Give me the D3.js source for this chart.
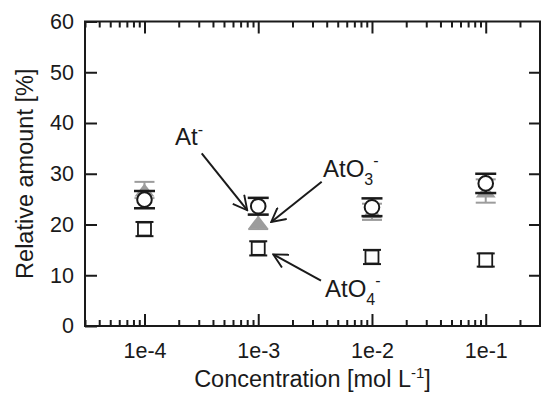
<!DOCTYPE html>
<html>
<head>
<meta charset="utf-8">
<script src="https://cdn.jsdelivr.net/npm/d3@7"></script>
<style>
  body { margin: 0; background: #fff; }
  svg { display: block; font-family: "Liberation Sans", Arial, sans-serif; }
  .axis path { display: none; }
  .axis line { stroke: #1a1a1a; stroke-width: 2; }
  .axis text { fill: #1a1a1a; font-size: 21.5px; }
</style>
</head>
<body>
<svg id="chart"></svg>
<script>
// Relative amount of astatine species vs. concentration
const concentrations = [1e-4, 1e-3, 1e-2, 1e-1];
const tickLabels = ["1e-4", "1e-3", "1e-2", "1e-1"];
const yTicks = [0, 10, 20, 30, 40, 50, 60];

// At- (open circles)
const atValues = [24.9, 23.6, 23.4, 28.1];
const atErrors = [1.7, 1.65, 1.75, 1.9];
// AtO3- (grey triangles)
const atO3Values = [26.8, 20.5, 22.5, 26.6];
const atO3Errors = [1.6, 1.4, 1.6, 2.3];
// AtO4- (open squares)
const atO4Values = [19.1, 15.3, 13.6, 13.0];
const atO4Errors = [1.4, 1.4, 1.4, 1.3];

const width = 542, height = 395;
const margin = { left: 85, right: 2, top: 21.5, bottom: 69 };

const svg = d3.select("#chart").attr("width", width).attr("height", height);

const x = d3.scaleLog()
    .domain([3e-5, 0.3])
    .range([margin.left, width - margin.right]);
const y = d3.scaleLinear()
    .domain([0, 60])
    .range([height - margin.bottom, margin.top]);

const x0 = x.range()[0], x1 = x.range()[1];
const y0 = y.range()[0], y1 = y.range()[1];

// minor ticks 2..9 per decade inside the domain
const minorTicks = [];
for (let e = -5; e <= 0; e++) {
    for (let m = 2; m <= 9; m++) {
        const v = m * Math.pow(10, e);
        if (v > 3e-5 && v < 0.3 && concentrations.indexOf(v) < 0) minorTicks.push(v);
    }
}

// bottom axis
svg.append("g").attr("class", "axis")
    .attr("transform", `translate(0,${y0})`)
    .call(d3.axisBottom(x).tickValues(concentrations).tickSize(-12).tickPadding(17)
        .tickFormat((d, i) => tickLabels[i]));
svg.append("g").attr("class", "axis")
    .attr("transform", `translate(0,${y0})`)
    .call(d3.axisBottom(x).tickValues(minorTicks).tickSize(-6).tickFormat(""));
// top axis
svg.append("g").attr("class", "axis")
    .attr("transform", `translate(0,${y1})`)
    .call(d3.axisTop(x).tickValues(concentrations).tickSize(-12).tickFormat(""));
svg.append("g").attr("class", "axis")
    .attr("transform", `translate(0,${y1})`)
    .call(d3.axisTop(x).tickValues(minorTicks).tickSize(-6).tickFormat(""));
// left axis
svg.append("g").attr("class", "axis")
    .attr("transform", `translate(${x0},0)`)
    .call(d3.axisLeft(y).tickValues(yTicks).tickSize(-12).tickPadding(11));
// right axis
svg.append("g").attr("class", "axis")
    .attr("transform", `translate(${x1},0)`)
    .call(d3.axisRight(y).tickValues(yTicks.slice(1, -1)).tickSize(-11).tickFormat(""));

// frame
svg.append("rect")
    .attr("x", x0).attr("y", y1)
    .attr("width", x1 - x0).attr("height", y0 - y1)
    .attr("fill", "none").attr("stroke", "#1a1a1a").attr("stroke-width", 2);

// axis titles
svg.append("text")
    .attr("transform", `translate(33,${(y0 + y1) / 2}) rotate(-90)`)
    .attr("text-anchor", "middle")
    .attr("font-size", 23.5).attr("fill", "#1a1a1a")
    .text("Relative amount [%]");

const xTitle = svg.append("text")
    .attr("x", (x0 + x1) / 2).attr("y", 387)
    .attr("text-anchor", "middle")
    .attr("font-size", 23.5).attr("fill", "#1a1a1a");
xTitle.append("tspan").text("Concentration [mol L");
xTitle.append("tspan").attr("dy", -9).attr("font-size", 15).text("-1");
xTitle.append("tspan").attr("dy", 9).text("]");

// error bars helper
function errorBars(vals, errs, color, capHalf, width) {
    const g = svg.append("g").attr("stroke", color).attr("stroke-width", width);
    vals.forEach((v, i) => {
        const cx = x(concentrations[i]);
        g.append("line")
            .attr("x1", cx).attr("x2", cx)
            .attr("y1", y(v - errs[i])).attr("y2", y(v + errs[i]));
        [v - errs[i], v + errs[i]].forEach(e => {
            g.append("line")
                .attr("x1", cx - capHalf).attr("x2", cx + capHalf)
                .attr("y1", y(e)).attr("y2", y(e));
        });
    });
}

// AtO3- triangles (grey)
errorBars(atO3Values, atO3Errors, "#9c9c9c", 10, 2);
svg.append("g").selectAll("path")
    .data(atO3Values)
    .join("path")
    .attr("transform", (d, i) => `translate(${x(concentrations[i])},${y(d)})`)
    .attr("d", "M0,-6.5L10,6.5L-10,6.5Z")
    .attr("fill", "#9c9c9c");

// At- circles
errorBars(atValues, atErrors, "#1a1a1a", 10.5, 2.5);
svg.append("g").selectAll("circle")
    .data(atValues)
    .join("circle")
    .attr("cx", (d, i) => x(concentrations[i]))
    .attr("cy", d => y(d))
    .attr("r", 7.3)
    .attr("fill", "#fff")
    .attr("stroke", "#1a1a1a")
    .attr("stroke-width", 2);

// AtO4- squares
errorBars(atO4Values, atO4Errors, "#1a1a1a", 9, 2);
svg.append("g").selectAll("rect")
    .data(atO4Values)
    .join("rect")
    .attr("x", (d, i) => x(concentrations[i]) - 6.5)
    .attr("y", d => y(d) - 6.5)
    .attr("width", 13).attr("height", 13)
    .attr("fill", "#fff")
    .attr("stroke", "#1a1a1a")
    .attr("stroke-width", 1.8);

// annotations with arrows
svg.append("defs").append("marker")
    .attr("id", "arrow")
    .attr("viewBox", "0 0 12 12")
    .attr("refX", 11).attr("refY", 6)
    .attr("markerWidth", 8).attr("markerHeight", 8)
    .attr("markerUnits", "strokeWidth")
    .attr("orient", "auto")
    .append("path")
    .attr("d", "M0.5,0.5L11,6L0.5,11.5")
    .attr("fill", "none").attr("stroke", "#1a1a1a").attr("stroke-width", 1.4);

const annotations = [
    { parts: [["At", 0], ["-", -10]], tx: 175, ty: 144.5, from: [201.7, 153.3], to: [x(1e-3) - 11, y(atValues[1]) + 4] },
    { parts: [["AtO", 0], ["3", 8], ["-", -11]], tx: 323, ty: 177.3, from: [321.7, 181.7], to: [x(1e-3) + 13, y(atO3Values[1])] },
    { parts: [["AtO", 0], ["4", 8], ["-", -11]], tx: 325, ty: 296.7, from: [321, 280.7], to: [x(1e-3) + 15, y(atO4Values[1]) + 6] }
];

annotations.forEach(a => {
    svg.append("line")
        .attr("x1", a.from[0]).attr("y1", a.from[1])
        .attr("x2", a.to[0]).attr("y2", a.to[1])
        .attr("stroke", "#1a1a1a").attr("stroke-width", 2)
        .attr("marker-end", "url(#arrow)");
    const t = svg.append("text")
        .attr("x", a.tx).attr("y", a.ty)
        .attr("font-size", 24).attr("fill", "#1a1a1a");
    let prev = 0;
    a.parts.forEach(([s, off]) => {
        t.append("tspan")
            .attr("dy", off - prev)
            .attr("font-size", off === 0 ? 24 : 16)
            .text(s);
        prev = off;
    });
});
</script>
</body>
</html>
